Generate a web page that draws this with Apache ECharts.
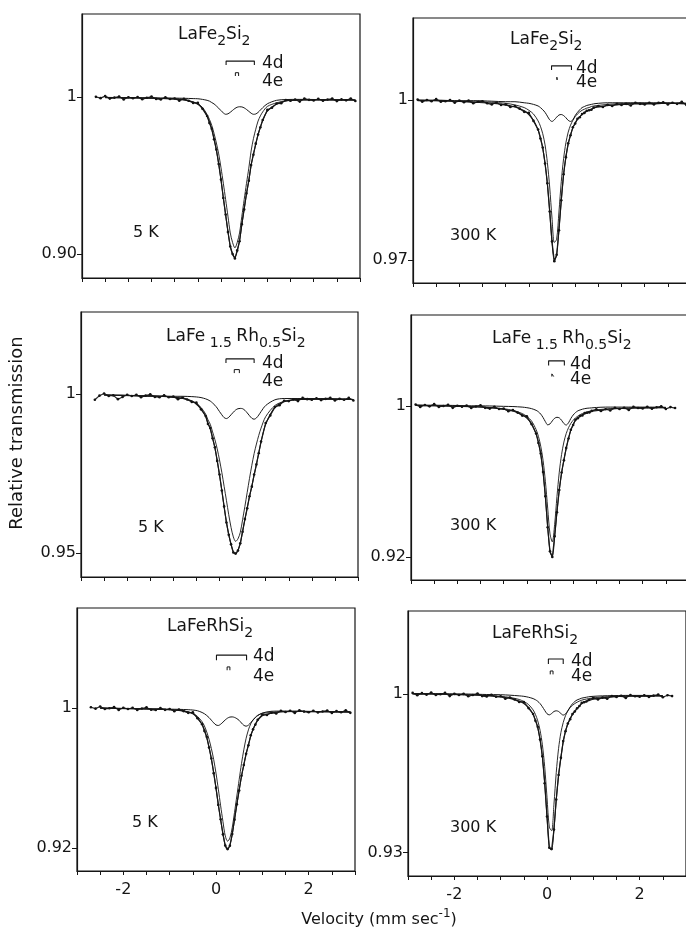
<!DOCTYPE html>
<html><head><meta charset="utf-8">
<script src="https://cdn.jsdelivr.net/npm/echarts@6/dist/echarts.min.js"></script>
<style>html,body{margin:0;padding:0;background:#fff}#c{width:686px;height:931px}</style>
</head><body><div id="c"></div>
<script>
// ---- velocity grids (mm/s) ----
const velFit = [-2.9,-2.5,-2.1,-1.7,-1.3,-1.0,-0.8,-0.6,-0.5,-0.4,-0.3,-0.25,-0.2,-0.15,-0.1,-0.05,0,0.05,0.1,0.15,0.2,0.25,0.3,0.35,0.4,0.45,0.5,0.55,0.6,0.65,0.7,0.75,0.8,0.85,0.9,1.0,1.2,1.4,1.7,2.1,2.5,2.9];
const velData = [-2.9,-2.8,-2.7,-2.6,-2.5,-2.4,-2.3,-2.2,-2.1,-2.0,-1.9,-1.8,-1.7,-1.6,-1.5,-1.4,-1.3,-1.2,-1.1,-1.0,-0.9,-0.8,-0.7,-0.6,-0.5,-0.4,-0.3,-0.25,-0.2,-0.15,-0.1,-0.05,0,0.05,0.1,0.15,0.2,0.25,0.3,0.35,0.4,0.45,0.5,0.55,0.6,0.65,0.7,0.75,0.8,0.85,0.9,1.0,1.1,1.2,1.3,1.4,1.5,1.6,1.7,1.8,1.9,2.0,2.1,2.2,2.3,2.4,2.5,2.6,2.7,2.8,2.9];
const xTickLabels = [-2, 0, 2];

// ---- LaFe2Si2, 5 K ----
const dataA = [null,null,1.0001,0.9993,1.0006,0.9990,0.9996,1.0003,0.9985,0.9999,0.9992,1.0000,0.9986,0.9995,1.0003,0.9988,0.9985,0.9998,0.9987,0.9991,0.9977,0.9988,0.9976,0.9962,0.9963,0.9925,0.9879,0.9835,0.9798,0.9731,0.9665,0.9573,0.9474,0.9357,0.9252,0.9140,0.9048,0.9000,0.8972,0.9023,0.9081,0.9190,0.9284,0.9386,0.9466,0.9567,0.9633,0.9703,0.9761,0.9807,0.9854,0.9918,0.9932,0.9958,0.9960,0.9981,0.9976,0.9984,0.9971,0.9990,0.9982,0.9978,0.9988,0.9976,0.9984,0.9990,0.9974,0.9985,0.9979,0.9991,0.9975];
const totA = [null,0.9996,0.9995,0.9994,0.9991,0.9987,0.9982,0.9968,0.9953,0.9929,0.9877,0.9841,0.9794,0.9733,0.9661,0.9577,0.9472,0.9359,0.9248,0.9144,0.9048,0.8998,0.8976,0.9019,0.9083,0.9188,0.9288,0.9382,0.9468,0.9565,0.9637,0.9699,0.9761,0.9809,0.9850,0.9910,0.9956,0.9975,0.9981,0.9982,0.9982,0.9981];
const e4A = [null,0.9997,0.9995,0.9994,0.9991,0.9988,0.9983,0.9969,0.9956,0.9934,0.9889,0.9858,0.9820,0.9768,0.9707,0.9638,0.9549,0.9451,0.9347,0.9241,0.9134,0.9073,0.9039,0.9073,0.9134,0.9240,0.9346,0.9449,0.9547,0.9656,0.9735,0.9795,0.9847,0.9880,0.9905,0.9940,0.9963,0.9976,0.9981,0.9982,0.9982,0.9981];
const d4A = [null,0.9998,0.9996,0.9995,0.9994,0.9993,0.9992,0.9990,0.9989,0.9985,0.9979,0.9974,0.9965,0.9956,0.9943,0.9929,0.9913,0.9899,0.9890,0.9893,0.9903,0.9915,0.9927,0.9935,0.9938,0.9937,0.9931,0.9921,0.9909,0.9897,0.9890,0.9892,0.9902,0.9917,0.9932,0.9957,0.9979,0.9984,0.9985,0.9984,0.9982,0.9981];

// ---- LaFe2Si2, 300 K ----
const dataB = [1.0001,0.9997,1.0000,0.9998,1.0002,0.9997,0.9998,1.0000,0.9995,0.9999,0.9996,0.9999,0.9994,0.9997,0.9998,0.9994,0.9992,0.9995,0.9991,0.9992,0.9987,0.9989,0.9984,0.9978,0.9976,0.9961,0.9945,0.9928,0.9911,0.9881,0.9844,0.9791,0.9735,0.9698,0.9710,0.9756,0.9812,0.9861,0.9893,0.9919,0.9934,0.9949,0.9956,0.9965,0.9968,0.9974,0.9976,0.9980,0.9981,0.9982,0.9986,0.9989,0.9987,0.9991,0.9989,0.9993,0.9991,0.9993,0.9990,0.9995,0.9993,0.9992,0.9995,0.9992,0.9995,0.9996,0.9992,0.9995,0.9993,0.9997,0.9991];
const totB = [0.9999,0.9999,0.9998,0.9996,0.9994,0.9991,0.9987,0.9980,0.9973,0.9962,0.9944,0.9930,0.9910,0.9882,0.9843,0.9792,0.9734,0.9699,0.9709,0.9757,0.9812,0.9860,0.9894,0.9918,0.9935,0.9948,0.9957,0.9964,0.9969,0.9973,0.9977,0.9979,0.9981,0.9983,0.9985,0.9987,0.9990,0.9991,0.9993,0.9993,0.9994,0.9993];
const e4B = [1.0000,0.9999,0.9998,0.9997,0.9996,0.9994,0.9991,0.9986,0.9981,0.9974,0.9961,0.9951,0.9937,0.9916,0.9883,0.9837,0.9779,0.9733,0.9739,0.9790,0.9847,0.9890,0.9920,0.9940,0.9953,0.9962,0.9969,0.9974,0.9978,0.9981,0.9983,0.9985,0.9986,0.9988,0.9989,0.9990,0.9992,0.9993,0.9994,0.9994,0.9994,0.9994];
const d4B = [1.0000,1.0000,0.9999,0.9999,0.9998,0.9997,0.9997,0.9995,0.9994,0.9992,0.9989,0.9986,0.9982,0.9977,0.9970,0.9963,0.9960,0.9963,0.9968,0.9972,0.9973,0.9971,0.9967,0.9962,0.9960,0.9963,0.9971,0.9977,0.9982,0.9986,0.9988,0.9990,0.9991,0.9992,0.9993,0.9994,0.9995,0.9995,0.9995,0.9995,0.9995,0.9994];

// ---- LaFe1.5Rh0.5Si2, 5 K ----
const dataC = [null,null,0.9982,0.9995,1.0002,0.9994,0.9996,0.9984,0.9991,0.9998,0.9994,0.9998,0.9990,0.9995,0.9999,0.9991,0.9990,0.9996,0.9990,0.9992,0.9984,0.9989,0.9983,0.9975,0.9973,0.9952,0.9931,0.9906,0.9893,0.9861,0.9833,0.9790,0.9747,0.9697,0.9647,0.9596,0.9558,0.9528,0.9502,0.9499,0.9508,0.9531,0.9567,0.9607,0.9641,0.9679,0.9709,0.9747,0.9779,0.9814,0.9851,0.9909,0.9933,0.9959,0.9965,0.9979,0.9978,0.9983,0.9978,0.9988,0.9984,0.9982,0.9987,0.9981,0.9985,0.9988,0.9980,0.9985,0.9982,0.9988,0.9980];
const totC = [null,0.9997,0.9996,0.9994,0.9993,0.9990,0.9986,0.9978,0.9968,0.9954,0.9930,0.9909,0.9891,0.9862,0.9831,0.9792,0.9746,0.9698,0.9645,0.9598,0.9558,0.9527,0.9504,0.9497,0.9509,0.9530,0.9569,0.9605,0.9642,0.9678,0.9711,0.9745,0.9779,0.9815,0.9849,0.9905,0.9958,0.9976,0.9983,0.9984,0.9984,0.9983];
const e4C = [null,0.9997,0.9996,0.9994,0.9993,0.9990,0.9987,0.9979,0.9970,0.9958,0.9937,0.9919,0.9905,0.9881,0.9857,0.9828,0.9793,0.9754,0.9710,0.9666,0.9621,0.9581,0.9551,0.9537,0.9545,0.9565,0.9605,0.9647,0.9691,0.9735,0.9776,0.9813,0.9843,0.9870,0.9893,0.9929,0.9964,0.9977,0.9983,0.9984,0.9984,0.9983];
const d4C = [null,0.9997,0.9996,0.9995,0.9994,0.9993,0.9993,0.9992,0.9991,0.9989,0.9985,0.9982,0.9978,0.9972,0.9965,0.9956,0.9945,0.9935,0.9926,0.9923,0.9927,0.9935,0.9943,0.9950,0.9954,0.9955,0.9954,0.9949,0.9941,0.9932,0.9924,0.9921,0.9925,0.9934,0.9945,0.9964,0.9982,0.9986,0.9986,0.9986,0.9985,0.9983];

// ---- LaFe1.5Rh0.5Si2, 300 K ----
const dataD = [1.0008,0.9995,1.0005,0.9998,1.0010,0.9995,1.0000,1.0006,0.9990,1.0001,0.9996,1.0002,0.9989,0.9997,1.0003,0.9990,0.9986,0.9996,0.9984,0.9986,0.9972,0.9978,0.9965,0.9949,0.9945,0.9904,0.9854,0.9804,0.9748,0.9650,0.9522,0.9357,0.9230,0.9200,0.9310,0.9437,0.9555,0.9647,0.9712,0.9778,0.9828,0.9874,0.9899,0.9927,0.9935,0.9947,0.9950,0.9962,0.9964,0.9966,0.9974,0.9982,0.9973,0.9983,0.9976,0.9990,0.9984,0.9990,0.9979,0.9995,0.9989,0.9987,0.9995,0.9985,0.9993,0.9998,0.9984,0.9994,0.9989,null,null];
const totD = [1.0003,1.0001,0.9999,0.9996,0.9991,0.9983,0.9973,0.9954,0.9936,0.9907,0.9852,0.9809,0.9745,0.9652,0.9519,0.9360,0.9228,0.9202,0.9307,0.9440,0.9555,0.9645,0.9715,0.9775,0.9830,0.9872,0.9902,0.9924,0.9937,0.9945,0.9953,0.9959,0.9964,0.9968,0.9971,0.9975,0.9981,0.9985,0.9988,0.9990,0.9991,null];
const e4D = [1.0003,1.0001,0.9999,0.9997,0.9992,0.9985,0.9977,0.9960,0.9945,0.9921,0.9875,0.9839,0.9787,0.9712,0.9601,0.9459,0.9322,0.9280,0.9371,0.9519,0.9649,0.9743,0.9809,0.9854,0.9885,0.9908,0.9924,0.9937,0.9946,0.9954,0.9960,0.9965,0.9969,0.9972,0.9975,0.9979,0.9984,0.9987,0.9989,0.9991,0.9991,null];
const d4D = [1.0005,1.0004,1.0003,1.0001,1.0000,0.9998,0.9997,0.9994,0.9991,0.9986,0.9977,0.9969,0.9957,0.9939,0.9917,0.9900,0.9905,0.9921,0.9935,0.9940,0.9937,0.9924,0.9907,0.9899,0.9911,0.9934,0.9952,0.9965,0.9974,0.9979,0.9983,0.9986,0.9988,0.9989,0.9990,0.9992,0.9994,0.9994,0.9994,0.9994,0.9993,null];

// ---- LaFeRhSi2, 5 K ----
const dataE = [null,null,1.0003,0.9995,1.0007,0.9993,0.9997,1.0004,0.9987,1.0000,0.9993,1.0000,0.9987,0.9996,1.0002,0.9989,0.9987,0.9998,0.9988,0.9993,0.9980,0.9990,0.9981,0.9971,0.9974,0.9940,0.9906,0.9868,0.9834,0.9773,0.9711,0.9627,0.9543,0.9446,0.9364,0.9278,0.9214,0.9194,0.9213,0.9280,0.9362,0.9450,0.9528,0.9612,0.9673,0.9738,0.9786,0.9843,0.9877,0.9904,0.9932,0.9961,0.9959,0.9972,0.9967,0.9982,0.9976,0.9983,0.9970,0.9986,0.9978,0.9974,0.9983,0.9973,0.9979,0.9984,0.9970,0.9981,0.9974,0.9985,0.9971];
const totE = [null,0.9998,0.9996,0.9994,0.9992,0.9989,0.9985,0.9976,0.9965,0.9944,0.9904,0.9873,0.9830,0.9775,0.9707,0.9631,0.9541,0.9448,0.9360,0.9282,0.9214,0.9192,0.9217,0.9276,0.9364,0.9448,0.9532,0.9608,0.9675,0.9736,0.9790,0.9839,0.9877,0.9906,0.9928,0.9954,0.9970,0.9977,0.9979,0.9978,0.9977,0.9976];
const e4E = [null,0.9998,0.9996,0.9994,0.9992,0.9989,0.9986,0.9977,0.9968,0.9951,0.9920,0.9896,0.9862,0.9820,0.9767,0.9705,0.9627,0.9536,0.9441,0.9351,0.9269,0.9239,0.9257,0.9316,0.9404,0.9497,0.9590,0.9681,0.9760,0.9826,0.9874,0.9909,0.9931,0.9946,0.9957,0.9968,0.9973,0.9977,0.9979,0.9978,0.9977,0.9976];
const d4E = [null,0.9998,0.9997,0.9995,0.9993,0.9992,0.9991,0.9989,0.9987,0.9983,0.9973,0.9966,0.9956,0.9944,0.9929,0.9914,0.9902,0.9899,0.9906,0.9918,0.9931,0.9941,0.9947,0.9948,0.9945,0.9938,0.9928,0.9913,0.9900,0.9895,0.9901,0.9915,0.9930,0.9944,0.9955,0.9970,0.9980,0.9981,0.9981,0.9979,0.9977,0.9976];

// ---- LaFeRhSi2, 300 K ----
const dataF = [1.0006,0.9996,1.0005,0.9998,1.0008,0.9997,1.0000,1.0006,0.9992,1.0002,0.9997,1.0002,0.9991,0.9997,1.0003,0.9992,0.9990,0.9998,0.9989,0.9991,0.9980,0.9986,0.9977,0.9966,0.9966,0.9939,0.9913,0.9883,0.9856,0.9800,0.9726,0.9607,0.9460,0.9322,0.9316,0.9402,0.9535,0.9643,0.9719,0.9793,0.9837,0.9871,0.9890,0.9913,0.9924,0.9938,0.9948,0.9962,0.9965,0.9968,0.9975,0.9984,0.9977,0.9985,0.9980,0.9992,0.9988,0.9993,0.9984,0.9997,0.9991,0.9989,0.9996,0.9988,0.9994,0.9999,0.9987,0.9996,0.9992,null,null];
const totF = [1.0002,1.0001,0.9999,0.9997,0.9994,0.9988,0.9982,0.9970,0.9959,0.9942,0.9912,0.9887,0.9853,0.9801,0.9723,0.9610,0.9459,0.9323,0.9313,0.9405,0.9535,0.9642,0.9722,0.9790,0.9838,0.9870,0.9893,0.9910,0.9925,0.9937,0.9948,0.9959,0.9965,0.9969,0.9972,0.9978,0.9984,0.9988,0.9991,0.9992,0.9993,null];
const e4F = [1.0002,1.0001,1.0000,0.9998,0.9995,0.9991,0.9986,0.9977,0.9968,0.9955,0.9931,0.9911,0.9883,0.9841,0.9777,0.9680,0.9544,0.9413,0.9397,0.9514,0.9655,0.9761,0.9831,0.9875,0.9906,0.9926,0.9941,0.9951,0.9959,0.9965,0.9970,0.9974,0.9977,0.9979,0.9981,0.9984,0.9988,0.9990,0.9992,0.9993,0.9993,null];
const d4F = [1.0003,1.0003,1.0002,1.0001,0.9999,0.9998,0.9996,0.9993,0.9991,0.9987,0.9981,0.9976,0.9969,0.9959,0.9945,0.9929,0.9914,0.9909,0.9915,0.9924,0.9927,0.9924,0.9915,0.9908,0.9913,0.9928,0.9944,0.9958,0.9968,0.9975,0.9979,0.9983,0.9985,0.9987,0.9989,0.9991,0.9993,0.9994,0.9995,0.9995,0.9994,null];

// y-axis ranges and labelled ticks
const yMin = [0.8847, 0.9657, 0.9425, 0.9078, 0.9069, 0.9197];
const yMax = [1.0529, 1.0154, 1.0258, 1.0482, 1.0569, 1.0368];
const yTickLow = [0.90, 0.97, 0.95, 0.92, 0.92, 0.93];
// site-marker brackets: [x1, x2, yTop, yLeg]
const bracket4d = [[0.11,0.72,1.0229,1.0204],[-0.01,0.42,1.00643,1.00563],[0.14,0.75,1.01105,1.0098],[-0.03,0.31,1.0239,1.0214],[0.01,0.66,1.0300,1.0271],[0.03,0.35,1.0156,1.0134]];
const bracket4e = [[0.31,0.38,1.0155,1.0134],[0.105,0.115,1.0043,1.0038],[0.32,0.43,1.0077,1.0066],[0.04,0.08,1.0170,1.0156],[0.24,0.30,1.0233,1.0214],[0.07,0.13,1.0103,1.0088]];
const titles = ['{n|LaFe}{s|2}{n|Si}{s|2}','{n|LaFe}{s|2}{n|Si}{s|2}','{n|LaFe}{s| 1.5 }{n|Rh}{s|0.5}{n|Si}{s|2}','{n|LaFe}{s| 1.5 }{n|Rh}{s|0.5}{n|Si}{s|2}','{n|LaFeRhSi}{s|2}','{n|LaFeRhSi}{s|2}'];
const temps = ['5 K','300 K','5 K','300 K','5 K','300 K'];

const dataSets = [dataA,dataB,dataC,dataD,dataE,dataF];
const totSets = [totA,totB,totC,totD,totE,totF];
const e4Sets = [e4A,e4B,e4C,e4D,e4E,e4F];
const d4Sets = [d4A,d4B,d4C,d4D,d4E,d4F];

// layout (pixels)
const gridBoxes = [
  {left:82, top:14, width:278, height:264},
  {left:413, top:18, width:278, height:265},
  {left:81, top:312, width:277, height:265},
  {left:411, top:315, width:278, height:265},
  {left:77, top:608, width:278, height:263},
  {left:408, top:611, width:278, height:265}
];
const titlePos = [[178,26],[510,31],[166,328],[492,330],[167,618],[492,625]];
const d4LabelPos = [[262,55],[576,60],[262,355],[570,356],[253,648],[571,653]];
const e4LabelPos = [[262,73],[576,74],[262,373],[570,371],[253,668],[571,668]];
const tempPos = [[133,225],[450,228],[138,520],[450,518],[132,815],[450,820]];

const FONT = 'DejaVu Sans';
const INK = '#151515';
const pairs = (xs, ys) => xs.map((x, k) => [x, ys[k]]);

const grids = [], xAxes = [], yAxes = [], series = [], graphics = [];
for (let i = 0; i < 6; i++) {
  grids.push(Object.assign({show:true, borderColor:INK, borderWidth:1.2, backgroundColor:'transparent', containLabel:false, outerBoundsMode:'none'}, gridBoxes[i]));
  const bottom = i >= 4;
  xAxes.push({gridIndex:i, type:'value', min:-3, max:3, interval:0.5,
    axisLine:{show:true, onZero:false, lineStyle:{color:INK, width:1.2}},
    axisTick:{show:true, inside:false, length:4, lineStyle:{color:INK, width:1}},
    axisLabel:{show:bottom, customValues:xTickLabels, fontFamily:FONT, fontSize:16, color:INK, margin:11},
    splitLine:{show:false}});
  yAxes.push({gridIndex:i, type:'value', min:yMin[i], max:yMax[i],
    axisLine:{show:true, onZero:false, lineStyle:{color:INK, width:1.2}},
    axisTick:{show:true, inside:false, length:5, customValues:[yTickLow[i], 1], lineStyle:{color:INK, width:1}},
    axisLabel:{show:true, customValues:[yTickLow[i], 1], fontFamily:FONT, fontSize:16, color:INK, margin:5,
      formatter: v => (Math.abs(v - 1) < 1e-9 ? '1' : v.toFixed(2))},
    splitLine:{show:false}});
  const base = {xAxisIndex:i, yAxisIndex:i, silent:true, animation:false};
  series.push(Object.assign({type:'line', name:'data'+i, data:pairs(velData, dataSets[i]), symbol:'circle', symbolSize:2.6, showSymbol:true,
    lineStyle:{width:1.2, color:'#262626'}, itemStyle:{color:'#111'}, z:3}, base));
  series.push(Object.assign({type:'line', name:'fit'+i, data:pairs(velFit, totSets[i]), smooth:0.3, showSymbol:false, symbol:'none',
    lineStyle:{width:1.1, color:INK}, z:4}, base));
  series.push(Object.assign({type:'line', name:'4e'+i, data:pairs(velFit, e4Sets[i]), smooth:0.3, showSymbol:false, symbol:'none',
    lineStyle:{width:0.9, color:INK}, z:4}, base));
  series.push(Object.assign({type:'line', name:'4d'+i, data:pairs(velFit, d4Sets[i]), smooth:0.3, showSymbol:false, symbol:'none',
    lineStyle:{width:1.0, color:INK}, z:4}, base));
  const b1 = bracket4d[i], b2 = bracket4e[i];
  series.push(Object.assign({type:'line', name:'b4d'+i, data:[[b1[0],b1[3]],[b1[0],b1[2]],[b1[1],b1[2]],[b1[1],b1[3]]], showSymbol:false, symbol:'none',
    lineStyle:{width:1.1, color:INK}, z:4}, base));
  series.push(Object.assign({type:'line', name:'b4e'+i, data:[[b2[0],b2[3]],[b2[0],b2[2]],[b2[1],b2[2]],[b2[1],b2[3]]], showSymbol:false, symbol:'none',
    lineStyle:{width:1.0, color:INK}, z:4}, base));

  graphics.push({type:'text', x:titlePos[i][0], y:titlePos[i][1], silent:true, style:{text:titles[i], fill:INK, fontFamily:FONT, fontSize:17,
    rich:{n:{fontFamily:FONT, fontSize:17, fill:INK, lineHeight:20, verticalAlign:'top'},
          s:{fontFamily:FONT, fontSize:14, fill:INK, lineHeight:16, padding:[8,0,0,0], verticalAlign:'top'}}}});
  graphics.push({type:'text', x:d4LabelPos[i][0], y:d4LabelPos[i][1], silent:true, style:{text:'4d', fill:INK, fontFamily:FONT, fontSize:17}});
  graphics.push({type:'text', x:e4LabelPos[i][0], y:e4LabelPos[i][1], silent:true, style:{text:'4e', fill:INK, fontFamily:FONT, fontSize:17}});
  graphics.push({type:'text', x:tempPos[i][0], y:tempPos[i][1], silent:true, style:{text:temps[i], fill:INK, fontFamily:FONT, fontSize:16}});
}
graphics.push({type:'text', x:17, y:433, rotation:Math.PI/2, silent:true,
  style:{text:'Relative transmission', fill:INK, fontFamily:FONT, fontSize:18, align:'center', verticalAlign:'middle'}});
graphics.push({type:'text', x:379, y:918, silent:true,
  style:{text:'{n|Velocity (mm sec}{p|-1}{n|)}', fill:INK, fontFamily:FONT, fontSize:16, align:'center', verticalAlign:'middle',
    rich:{n:{fontFamily:FONT, fontSize:16, fill:INK, lineHeight:20, verticalAlign:'bottom'},
          p:{fontFamily:FONT, fontSize:12, fill:INK, lineHeight:12, padding:[0,0,10,0], verticalAlign:'top'}}}});

const chart = echarts.init(document.getElementById('c'), null, {renderer:'canvas'});
chart.setOption({animation:false, backgroundColor:'#ffffff', grid:grids, xAxis:xAxes, yAxis:yAxes, series:series, graphic:graphics});
</script>
</body></html>
